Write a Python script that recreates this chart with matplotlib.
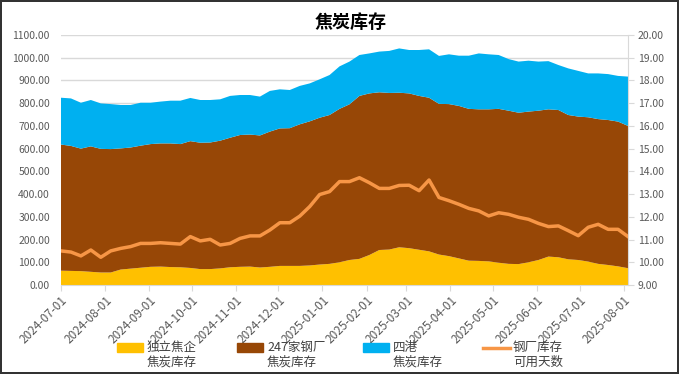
import pandas as pd
import matplotlib.pyplot as plt
import matplotlib.dates as mdates
from matplotlib.ticker import MultipleLocator, FormatStrFormatter
from matplotlib.patches import Rectangle
from matplotlib.lines import Line2D

plt.rcParams['font.family'] = ['Noto Sans CJK SC', 'DejaVu Sans']

# weekly data
dates = pd.date_range('2024-07-01', periods=58, freq='7D')

# 独立焦企焦炭库存 (万吨)
coke_plants = [63, 62, 61, 58, 55, 55, 68, 72, 76, 80,
               81, 79, 78, 75, 70, 70, 73, 78, 80, 81,
               77, 80, 84, 84, 84, 86, 90, 93, 100, 110,
               115, 132, 154, 156, 166, 162, 155, 148, 134, 127,
               117, 107, 106, 104, 98, 93, 92, 100, 110, 125,
               122, 113, 110, 103, 93, 88, 82, 74]

# 247家钢厂焦炭库存
steel_mills = [555, 550, 539, 552, 544, 543, 533, 533, 537, 540,
               542, 544, 542, 558, 556, 557, 562, 570, 580, 581,
               581, 595, 605, 606, 623, 634, 646, 655, 675, 685,
               717, 711, 694, 689, 680, 681, 677, 676, 663, 669,
               671, 668, 667, 669, 677, 674, 666, 663, 657, 648,
               648, 635, 631, 635, 637, 638, 637, 626]

# 四港焦炭库存
ports = [206, 209, 202, 204, 200, 198, 191, 187, 189, 182,
         184, 188, 191, 190, 188, 187, 182, 184, 176, 174,
         171, 179, 172, 168, 169, 167, 169, 176, 187, 188,
         180, 176, 179, 185, 195, 191, 202, 213, 211, 219,
         221, 234, 246, 242, 237, 227, 225, 224, 216, 212,
         198, 205, 201, 193, 201, 202, 201, 217]

# 钢厂库存可用天数 (右轴)
usable_days = [10.50, 10.45, 10.28, 10.54, 10.22, 10.50, 10.61, 10.69, 10.83, 10.83,
               10.86, 10.83, 10.80, 11.13, 10.94, 11.01, 10.76, 10.83, 11.05, 11.16,
               11.16, 11.42, 11.74, 11.74, 12.03, 12.45, 12.98, 13.11, 13.55, 13.55,
               13.72, 13.50, 13.25, 13.25, 13.38, 13.39, 13.15, 13.62, 12.85, 12.71,
               12.55, 12.37, 12.26, 12.04, 12.18, 12.11, 11.98, 11.89, 11.71, 11.57,
               11.60, 11.39, 11.17, 11.54, 11.67, 11.45, 11.45, 11.13]

labels = ['独立焦企\n焦炭库存', '247家钢厂\n焦炭库存', '四港\n焦炭库存', '钢厂库存\n可用天数']
colors = ['#FFC000', '#974706', '#00B0F0']
line_color = '#F79646'
txt_gray = '#595959'
grid_gray = '#D9D9D9'

W, H = 679, 374


def px(x, y):
    # pixel position -> figure fraction
    return x / W, 1 - y / H


fig = plt.figure(figsize=(W / 100, H / 100), dpi=100)
fig.patch.set_edgecolor('#333333')
fig.patch.set_linewidth(1.5)
ax = fig.add_axes([61/W, 1-285/H, (628-61)/W, 250/H])

ax.stackplot(dates, coke_plants, steel_mills, ports, colors=colors, linewidth=0)
ax.set_ylim(0, 1100)
ax.yaxis.set_major_locator(MultipleLocator(100))
ax.yaxis.set_major_formatter(FormatStrFormatter('%.2f'))
ax.set_xlim(dates[0], dates[-1])
ax.grid(axis='y', color=grid_gray, linewidth=1)
ax.set_axisbelow(True)

ticks = pd.date_range('2024-07-01', '2025-08-01', freq='MS')
ax.set_xticks(ticks)
ax.xaxis.set_major_formatter(mdates.DateFormatter('%Y-%m-%d'))
plt.setp(ax.get_xticklabels(), rotation=45, ha='right', rotation_mode='anchor')
ax.tick_params(axis='x', colors=grid_gray, labelcolor=txt_gray, labelsize=8.5, length=4, pad=2)
ax.tick_params(axis='y', length=0, labelcolor=txt_gray, labelsize=7.5, pad=8)
for s in ['top', 'left', 'right']:
    ax.spines[s].set_visible(False)
ax.spines['bottom'].set_color(grid_gray)

ax2 = ax.twinx()
ax2.plot(dates, usable_days, color=line_color, linewidth=2.5)
ax2.set_ylim(9, 20)
ax2.yaxis.set_major_locator(MultipleLocator(1))
ax2.yaxis.set_major_formatter(FormatStrFormatter('%.2f'))
ax2.tick_params(axis='y', colors=grid_gray, labelcolor=txt_gray, labelsize=7.5, length=4, pad=3)
for s in ['top', 'left', 'bottom']:
    ax2.spines[s].set_visible(False)
ax2.spines['right'].set_color(grid_gray)

fig.text(*px(351, 22), '焦炭库存', ha='center', va='center', fontsize=13, fontweight='bold')

# legend, laid out like the Excel one: key next to the first text line
key_x = [117, 237, 363, 483]
for i, lab in enumerate(labels):
    x0 = key_x[i]
    if i < 3:
        fig.add_artist(Rectangle(px(x0, 352), 26/W, 9/H, color=colors[i],
                                 transform=fig.transFigure))
    else:
        fig.add_artist(Line2D([x0/W, (x0+27)/W], [1-348/H, 1-348/H], color=line_color,
                              linewidth=2.5, transform=fig.transFigure))
    fig.text(*px(x0 + 30, 341), lab, ha='left', va='top', fontsize=9,
             color='#404040', linespacing=1.15)

fig.savefig('out.png', dpi=100)
